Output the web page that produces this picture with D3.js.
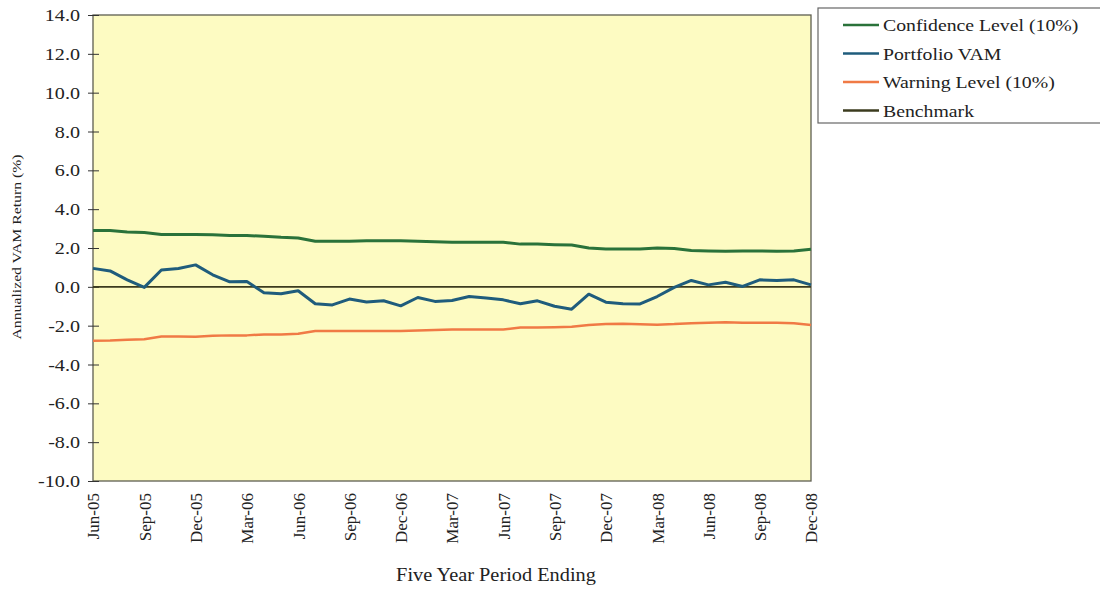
<!DOCTYPE html>
<html><head><meta charset="utf-8">
<script src="https://cdn.jsdelivr.net/npm/d3@7"></script>
<style>body{margin:0;background:#fff;}svg{display:block;}</style>
</head><body>
<script>
const months = ["Jun-05","Jul-05","Aug-05","Sep-05","Oct-05","Nov-05","Dec-05","Jan-06","Feb-06","Mar-06","Apr-06","May-06","Jun-06","Jul-06","Aug-06","Sep-06","Oct-06","Nov-06","Dec-06","Jan-07","Feb-07","Mar-07","Apr-07","May-07","Jun-07","Jul-07","Aug-07","Sep-07","Oct-07","Nov-07","Dec-07","Jan-08","Feb-08","Mar-08","Apr-08","May-08","Jun-08","Jul-08","Aug-08","Sep-08","Oct-08","Nov-08","Dec-08"];
const tickLabels = ["Jun-05","Sep-05","Dec-05","Mar-06","Jun-06","Sep-06","Dec-06","Mar-07","Jun-07","Sep-07","Dec-07","Mar-08","Jun-08","Sep-08","Dec-08"];
const yTicks = [14,12,10,8,6,4,2,0,-2,-4,-6,-8,-10];
const confidence = [2.9,2.9,2.83,2.8,2.7,2.7,2.7,2.68,2.65,2.65,2.6,2.55,2.52,2.35,2.35,2.35,2.37,2.37,2.37,2.35,2.32,2.3,2.3,2.3,2.3,2.2,2.2,2.17,2.15,2.0,1.95,1.95,1.95,2.0,1.97,1.87,1.85,1.83,1.85,1.85,1.83,1.85,1.94];
const portfolio = [0.95,0.82,0.36,-0.03,0.87,0.94,1.13,0.62,0.26,0.27,-0.3,-0.36,-0.2,-0.87,-0.93,-0.63,-0.78,-0.72,-0.98,-0.55,-0.75,-0.7,-0.5,-0.58,-0.67,-0.87,-0.72,-1.0,-1.15,-0.38,-0.79,-0.87,-0.88,-0.5,-0.03,0.33,0.1,0.24,0.02,0.36,0.33,0.36,0.1];
const warning = [-2.78,-2.77,-2.72,-2.7,-2.56,-2.56,-2.57,-2.52,-2.5,-2.5,-2.45,-2.45,-2.42,-2.27,-2.27,-2.27,-2.28,-2.28,-2.27,-2.25,-2.22,-2.2,-2.2,-2.2,-2.2,-2.1,-2.1,-2.08,-2.05,-1.96,-1.92,-1.9,-1.93,-1.95,-1.92,-1.87,-1.85,-1.83,-1.85,-1.85,-1.85,-1.87,-1.96];
const benchmark = months.map(() => 0);
const seriesNames = ["Confidence Level (10%)","Portfolio VAM","Warning Level (10%)","Benchmark"];
const seriesColors = ["#2a723a","#1f5c7c","#f07a45","#3b3b1e"];

const W = 1100, H = 589;
const m = {left:93, top:15, right:811, bottom:481};
const svg = d3.select("body").append("svg").attr("width",W).attr("height",H);
const x = d3.scalePoint().domain(months).range([m.left, m.right]);
const y = d3.scaleLinear().domain([-10,14]).range([m.bottom, m.top]);

// horizontal glyph stretch (the original is a slightly widened scan)
function stretch(sel, f){ sel.each(function(){ const x0=+(this.getAttribute("x")||0); d3.select(this).attr("transform",`translate(${x0},0) scale(${f},1) translate(${-x0},0)`); }); }

svg.append("rect").attr("x",m.left).attr("y",m.top).attr("width",m.right-m.left).attr("height",m.bottom-m.top)
  .attr("fill","#fdfbc2").attr("stroke","#5e5e50").attr("stroke-width",1.3);

const serif = "'Liberation Serif','Times New Roman',serif";
const yAxis = svg.append("g").attr("transform",`translate(${m.left},0)`)
  .call(d3.axisLeft(y).tickValues(yTicks).tickFormat(d=>d.toFixed(1)).tickSize(5).tickPadding(8));
yAxis.select(".domain").remove();
yAxis.selectAll(".tick line").attr("x2",-5).attr("x1",6).attr("stroke","#333");
yAxis.selectAll("text").attr("font-family",serif).attr("font-size",17.5).attr("fill","#222");
stretch(yAxis.selectAll("text"), 1.15);

const xAxis = svg.append("g").attr("transform",`translate(0,${m.bottom})`)
  .call(d3.axisBottom(x).tickValues(tickLabels).tickSize(0).tickPadding(0));
xAxis.select(".domain").remove();
xAxis.selectAll("text").attr("font-family",serif).attr("font-size",17).attr("fill","#222")
  .attr("transform","rotate(-90)").attr("text-anchor","end").attr("dx","-12").attr("dy","0.35em").attr("x",0).attr("y",0);

const line = d3.line().x((d,i)=>x(months[i])).y(d=>y(d));
const data = [confidence, portfolio, warning, benchmark];
const widths = [3,3,2.5,1.6];
[3,2,0,1].forEach(k=>{
  svg.append("path").datum(data[k]).attr("d",line).attr("fill","none")
    .attr("stroke",seriesColors[k]).attr("stroke-width",widths[k]).attr("stroke-linejoin","round");
});

svg.append("text").attr("transform",`translate(21,247) rotate(-90)`)
  .attr("text-anchor","middle").attr("font-family",serif).attr("font-size",13).attr("fill","#222")
  .attr("textLength",185).attr("lengthAdjust","spacingAndGlyphs")
  .text("Annualized VAM Return (%)");
const xt = svg.append("text").attr("x",496).attr("y",581).attr("text-anchor","middle")
  .attr("font-family",serif).attr("font-size",18).attr("fill","#222").text("Five Year Period Ending");
stretch(xt, 1.13);

const lg = svg.append("g");
lg.append("rect").attr("x",818).attr("y",8).attr("width",290).attr("height",115).attr("fill","#fff").attr("stroke","#666").attr("stroke-width",1.2);
seriesNames.forEach((n,i)=>{
  const yy = 25 + i*28.5;
  lg.append("line").attr("x1",843).attr("x2",879).attr("y1",yy).attr("y2",yy).attr("stroke",seriesColors[i]).attr("stroke-width",2.5);
  const t = lg.append("text").attr("x",883).attr("y",yy).attr("dy","0.35em").attr("font-family",serif).attr("font-size",17.5).attr("fill","#222").text(n);
  stretch(t, 1.13);
});
</script>
</body></html>
